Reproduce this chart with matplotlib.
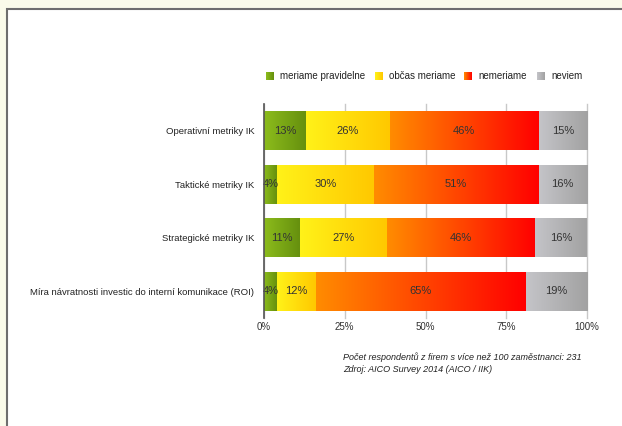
import matplotlib.pyplot as plt
import numpy as np
from matplotlib.colors import LinearSegmentedColormap
from matplotlib.patches import Rectangle

plt.rcParams['font.family'] = ['Liberation Sans', 'DejaVu Sans']

categories = ['Operativní metriky IK', 'Taktické metriky IK',
              'Strategické metriky IK',
              'Míra návratnosti investic do interní komunikace (ROI)']
series = ['meriame pravidelne', 'občas meriame', 'nemeriame', 'neviem']
pravidelne = [13, 4, 11, 4]
obcas = [26, 30, 27, 12]
nemeriame = [46, 51, 46, 65]
neviem = [15, 16, 16, 19]
ticks = [0, 25, 50, 75, 100]
tick_labels = ['0%', '25%', '50%', '75%', '100%']

gradients = [('#8cbc1c', '#66900e'), ('#fff219', '#ffc800'),
             ('#ff8c00', '#ff0000'), ('#c4c4c8', '#a2a2a2')]

fig = plt.figure(figsize=(6.22, 4.26), dpi=100)
fig.patch.set_facecolor('#fafbea')
# panel
fig.patches.append(Rectangle((7 / 622, -0.1), 1.2, (426 - 9) / 426 + 0.1,
                             transform=fig.transFigure, facecolor='white',
                             edgecolor='#6e6e6e', linewidth=1.5, zorder=-5))

ax = fig.add_axes([264 / 622, 108 / 426, 323 / 622, 214 / 426])
ax.set_facecolor('none')

data = np.array([pravidelne, obcas, nemeriame, neviem], dtype=float)
ypos = np.arange(len(categories))
h = 0.72

for j in range(len(series)):
    cmap = LinearSegmentedColormap.from_list('g%d' % j, gradients[j])
    grad = np.linspace(0, 1, 256).reshape(1, -1)
    lefts = data[:j].sum(axis=0)
    for i in range(len(categories)):
        x0 = lefts[i]
        w = min(data[j, i], 100 - x0)
        y0 = ypos[i] - h / 2
        ax.imshow(grad, cmap=cmap, aspect='auto', extent=(x0, x0 + w, y0 + h, y0),
                  zorder=2, interpolation='bilinear')
        ax.text(x0 + w / 2, ypos[i], '%d%%' % data[j, i], ha='center',
                va='center', fontsize=8, color='#333333', zorder=3)

ax.set_xlim(0, 100)
ax.set_ylim(len(categories) - 0.5, -0.5)
ax.set_xticks(ticks)
ax.set_xticklabels(tick_labels, fontsize=7, color='#333333')
ax.set_yticks(ypos)
ax.set_yticklabels(categories, fontsize=6.8, color='#222222')
ax.tick_params(axis='y', length=0, pad=7)
ax.tick_params(axis='x', length=0, pad=3)
for gl in ax.xaxis.get_gridlines():
    gl.set_clip_on(False)
ax.grid(axis='x', color='#c8c8c8', linewidth=1, zorder=1)
ax.set_axisbelow(True)
for s in ['top', 'right', 'bottom']:
    ax.spines[s].set_visible(False)
ax.spines['left'].set_color('#555555')
ax.spines['left'].set_linewidth(1.2)
ax.spines['left'].set_zorder(4)

# legend
leg_x = [266, 375, 464, 537]
for j, name in enumerate(series):
    cmap = LinearSegmentedColormap.from_list('l%d' % j, gradients[j])
    lax = fig.add_axes([leg_x[j] / 622, (426 - 80) / 426, 8 / 622, 8 / 426])
    lax.imshow(np.linspace(0, 1, 32).reshape(1, -1), cmap=cmap, aspect='auto')
    lax.axis('off')
    fig.text((leg_x[j] + 14) / 622, (426 - 76) / 426, name, fontsize=7,
             color='#222222', va='center', ha='left')

fig.text(343 / 622, (426 - 357) / 426,
         'Počet respondentů z firem s více než 100 zaměstnanci: 231',
         fontsize=6.5, style='italic', color='#222222', va='center')
fig.text(343 / 622, (426 - 370) / 426, 'Zdroj: AICO Survey 2014 (AICO / IIK)',
         fontsize=6.5, style='italic', color='#222222', va='center')

fig.savefig('out.png', dpi=100, facecolor=fig.get_facecolor())
